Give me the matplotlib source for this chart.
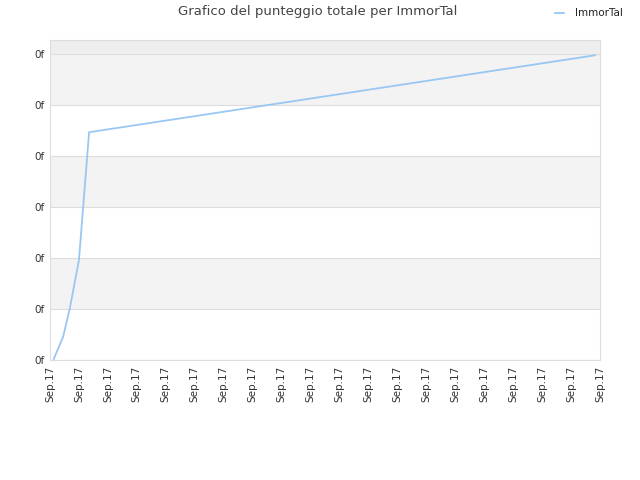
import matplotlib
matplotlib.use("Agg")
import matplotlib.pyplot as plt

# Data
x_idx = [0.13, 0.45, 0.68, 1.0, 1.35, 18.83]
scores = [0.02, 0.45, 1.0, 1.96, 4.47, 5.98]
x_labels = ["Sep.17"] * 20
y_ticks = [0, 1, 2, 3, 4, 5, 6]
y_labels = ["0f"] * 7
series_name = "ImmorTal"
title = "Grafico del punteggio totale per ImmorTal"

fig = plt.figure(figsize=(6.4, 4.8), dpi=100)
ax = fig.add_axes([50/640, 120/480, 550/640, 320/480])
ax.set_xlim(0, len(x_labels) - 1)
ax.set_ylim(0, 6.28)

# bands
for lo in [1, 3, 5]:
    ax.axhspan(lo, lo + 1, color="#f3f3f3", zorder=0, lw=0)
ax.axhspan(6, 6.28, color="#eeeeee", zorder=0, lw=0)
for yv in y_ticks:
    ax.axhline(yv, color="#dddddd", lw=0.8, zorder=1)

line, = ax.plot(x_idx, scores, color="#99c7f3", lw=1.3, zorder=3, label=series_name)

ax.set_xticks(range(len(x_labels)))
ax.set_xticklabels(x_labels, rotation=90, fontsize=7.5, color="#333333")
ax.set_yticks(y_ticks)
ax.set_yticklabels(y_labels, fontsize=7.5, color="#333333")
ax.tick_params(length=0, pad=4)
for s in ax.spines.values():
    s.set_color("#dddddd")
    s.set_linewidth(0.8)

fig.text(318/640, 1 - 12/480, title, ha="center", va="center", fontsize=9.5, color="#444444")
fig.legend(handles=[line], loc="upper right", bbox_to_anchor=(632/640, 1 + 1/480),
           frameon=False, fontsize=7.5, handlelength=0.9, handletextpad=1.0,
           labelcolor="#222222")

fig.savefig("out.png", dpi=100)
